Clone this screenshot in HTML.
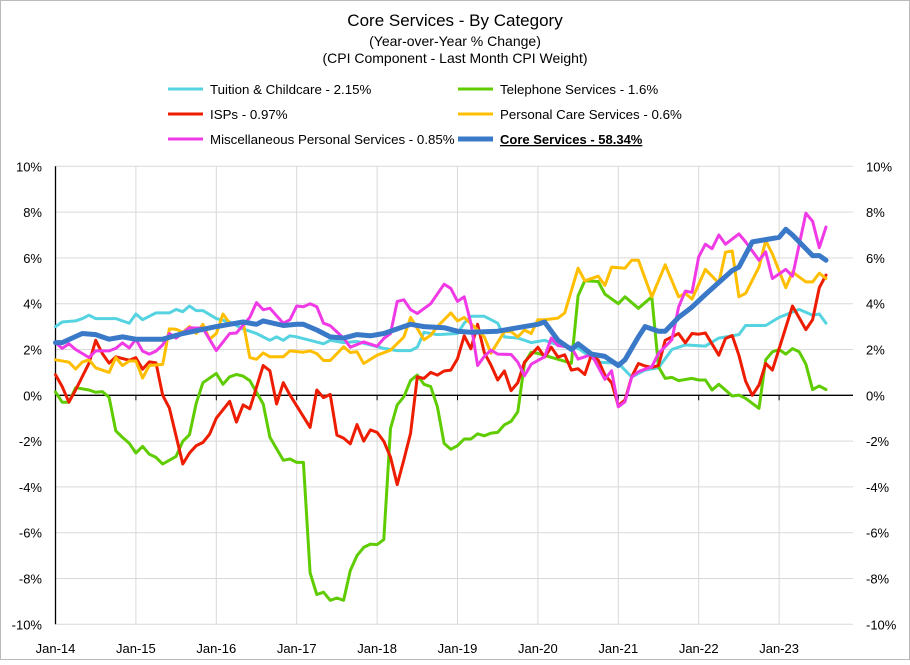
<!DOCTYPE html>
<html><head><meta charset="utf-8">
<style>
html,body{margin:0;padding:0;background:#fff;}
body{width:910px;height:660px;overflow:hidden;font-family:"Liberation Sans",sans-serif;}
svg text{font-family:"Liberation Sans",sans-serif;}
</style></head>
<body>
<svg id="chart" width="910" height="660" viewBox="0 0 910 660" xmlns="http://www.w3.org/2000/svg">
<rect x="0.5" y="0.5" width="909" height="659" fill="#fff" stroke="#bbb"/>
<g>
<text x="455" y="26" text-anchor="middle" font-size="17" fill="#000">Core Services  - By Category</text>
<text x="455" y="46" text-anchor="middle" font-size="14" fill="#000">(Year-over-Year % Change)</text>
<text x="455" y="63" text-anchor="middle" font-size="14" fill="#000">(CPI Component - Last Month CPI Weight)</text>
</g>
<g id="legend"></g>
<g id="grid"></g>
<g id="axes"></g>
<g id="series"></g>
</svg>
<script>
const xLabels=["Jan-14","Jan-15","Jan-16","Jan-17","Jan-18","Jan-19","Jan-20","Jan-21","Jan-22","Jan-23"];
const yTicks=[-10,-8,-6,-4,-2,0,2,4,6,8,10];
const seriesNames=["Tuition & Childcare - 2.15%","Telephone Services - 1.6%","ISPs - 0.97%","Personal Care Services - 0.6%","Miscellaneous Personal Services - 0.85%","Core Services - 58.34%"];
// month index (0 = Jan-14) and YoY % values per series
const tuitionMonths=[0,1,3,4,5,6,9,11,12,13,15,17,18,19,20,21,22,24,26,28,30,32,33,34,35,36,38,40,41,43,45,47,49,51,53,54,55,57,60,61,62,64,66,67,69,71,73,75,78,81,84,86,88,90,92,94,97,99,101,102,103,106,108,111,113,114,115];
const tuitionValues=[3.0,3.2,3.25,3.35,3.5,3.35,3.35,3.15,3.55,3.3,3.6,3.6,3.75,3.65,3.9,3.7,3.7,3.35,3.2,2.9,2.7,2.4,2.55,2.4,2.6,2.55,2.4,2.25,2.4,2.3,2.35,2.2,2.05,1.95,1.95,2.1,2.75,2.65,2.7,3.15,3.45,3.45,3.15,2.55,2.5,2.3,2.4,2.2,2.05,1.45,1.4,0.8,1.1,1.2,2.0,2.2,2.15,2.5,2.6,2.65,3.05,3.05,3.4,3.75,3.5,3.55,3.15];
const phoneMonths=[0,1,2,3,5,6,7,8,9,10,11,12,13,14,15,16,18,19,20,21,22,24,25,26,27,28,29,31,32,34,35,36,37,38,39,40,41,42,43,44,45,46,47,48,49,50,51,52,53,54,55,56,57,58,59,60,61,62,63,64,65,66,67,68,69,70,71,72,77,78,79,81,82,84,85,87,89,90,91,92,93,95,96,97,98,99,101,102,103,105,106,107,108,109,110,111,112,113,114,115];
const phoneValues=[0.15,-0.3,-0.3,0.33,0.23,0.13,0.16,-0.09,-1.55,-1.84,-2.09,-2.52,-2.23,-2.57,-2.71,-3.0,-2.67,-2.01,-1.72,-0.35,0.55,0.95,0.48,0.81,0.91,0.84,0.64,-0.38,-1.83,-2.84,-2.78,-2.93,-2.93,-7.75,-8.7,-8.6,-8.95,-8.85,-8.95,-7.65,-7.0,-6.64,-6.5,-6.52,-6.3,-1.45,-0.42,-0.06,0.65,0.88,0.48,0.38,-0.5,-2.1,-2.36,-2.2,-1.91,-1.91,-1.68,-1.77,-1.65,-1.62,-1.29,-1.14,-0.72,1.4,1.88,1.83,1.4,4.35,5.0,4.97,4.42,4.0,4.3,3.8,4.3,1.25,0.74,0.78,0.64,0.74,0.67,0.67,0.23,0.48,-0.03,0.01,-0.13,-0.57,1.55,1.9,2.0,1.8,2.04,1.9,1.36,0.25,0.41,0.25];
const ispMonths=[0,1,2,3,5,6,7,8,9,11,12,13,14,15,16,17,19,20,21,22,23,24,26,27,28,29,31,32,33,34,35,38,39,40,41,42,43,44,45,46,47,48,49,50,51,52,53,54,55,56,57,58,59,60,61,62,63,64,65,66,67,68,69,70,72,73,74,75,76,77,78,79,80,81,82,83,84,85,86,87,88,89,90,91,93,94,95,96,97,99,100,101,102,103,104,105,106,107,110,112,113,114,115];
const ispValues=[0.9,0.38,-0.3,0.23,1.4,2.4,1.82,1.4,1.68,1.53,1.64,1.14,1.46,1.42,0,-0.56,-3.0,-2.52,-2.2,-2.06,-1.7,-1.0,-0.26,-1.17,-0.42,-0.59,1.3,1.07,-0.38,0.55,0.01,-1.4,0.23,-0.1,0.04,-1.74,-1.87,-2.12,-1.28,-2.0,-1.51,-1.62,-2.01,-2.7,-3.9,-2.81,-1.65,0.81,0.74,1.0,0.88,1.06,1.1,1.6,2.6,2.03,3.1,1.86,1.32,0.67,1.06,0.2,0.55,1.45,2.1,1.67,2.1,1.67,1.77,1.1,1.16,0.91,1.78,1.54,0.88,0.55,-0.45,-0.2,0.81,1.39,1.28,1.22,1.3,2.4,2.7,2.29,2.7,2.67,2.72,1.75,2.48,2.61,1.75,0.62,0,0.45,1.39,1.1,3.9,2.87,3.3,4.7,5.25];
const careMonths=[0,2,3,4,5,6,8,9,10,11,12,13,14,16,17,18,19,20,21,22,23,24,25,26,28,29,30,31,32,34,35,37,38,39,40,41,43,44,45,46,48,50,52,53,55,56,57,59,60,61,63,64,65,67,68,69,70,71,72,73,75,76,78,79,81,82,83,85,86,87,89,91,93,94,95,97,99,100,101,102,103,105,106,107,109,110,112,113,114,115];
const careValues=[1.55,1.45,1.15,1.45,1.55,1.2,1.0,1.65,1.3,1.5,1.5,0.75,1.3,1.35,2.9,2.88,2.75,3.0,2.7,3.1,2.45,2.7,3.55,3.15,3.2,1.65,1.57,1.85,1.68,1.68,1.94,1.88,1.94,1.82,1.52,1.52,2.12,1.87,1.9,1.39,1.75,1.97,2.55,3.4,2.43,2.62,3.0,3.6,3.25,3.4,2.85,2.55,1.84,2.78,2.78,2.55,2.85,2.7,3.3,3.3,3.37,3.6,5.55,5.0,5.2,4.8,5.6,5.55,5.9,5.9,4.3,5.7,4.3,4.45,4.2,5.5,4.9,6.25,6.3,4.3,4.45,5.6,6.75,6.17,4.7,5.38,4.95,4.95,5.33,5.1];
const miscMonths=[0,1,2,3,5,6,8,9,10,11,12,13,14,15,16,17,18,20,22,24,26,27,29,30,31,32,34,35,36,37,38,39,40,41,43,44,46,48,49,50,51,52,53,54,56,58,59,60,61,62,63,64,65,66,68,69,70,71,73,74,75,77,78,80,82,83,84,85,86,87,89,90,92,93,94,95,96,97,98,99,100,102,103,105,106,107,109,110,112,113,114,115];
const miscValues=[2.3,2.05,2.25,2.0,1.65,1.94,1.94,2.05,2.29,2.07,2.45,1.93,1.8,1.93,2.2,2.7,2.5,2.95,2.93,1.95,2.7,2.72,3.4,4.05,3.74,3.8,3.15,3.3,3.9,3.87,4.0,3.87,3.15,3.04,2.5,2.1,2.33,2.14,2.48,2.7,4.1,4.17,3.74,3.57,4.0,4.85,4.67,4.1,4.3,3.15,1.3,1.7,1.97,1.8,1.78,1.45,0.85,1.36,1.68,2.5,2.17,2.1,1.58,1.78,0.7,1.07,-0.5,-0.28,0.8,1.03,1.25,1.83,2.43,3.85,4.55,4.5,6.05,6.6,6.4,7.0,6.6,7.05,6.7,5.9,6.26,5.1,5.5,5.2,7.95,7.6,6.45,7.35];
const coreMonths=[0,1,4,6,8,10,12,16,19,24,26,28,30,31,34,36,37,39,41,43,45,47,49,51,53,55,58,60,62,66,69,72,73,75,77,78,80,82,84,85,87,88,90,91,93,95,97,101,102,104,106,108,109,110,113,114,115];
const coreValues=[2.3,2.3,2.7,2.65,2.45,2.55,2.45,2.45,2.7,3.0,3.1,3.2,3.1,3.25,3.05,3.1,3.1,2.85,2.55,2.5,2.65,2.6,2.7,2.9,3.1,3.0,2.95,2.8,2.75,2.8,2.95,3.1,3.2,2.4,2.0,2.25,1.8,1.7,1.3,1.55,2.55,3.0,2.8,2.8,3.4,3.85,4.4,5.45,5.6,6.7,6.8,6.9,7.25,7.0,6.1,6.1,5.9];

const NS="http://www.w3.org/2000/svg";
const X0=55.5, MPX=6.7, Y0=395.3, YPX=22.9, XR=853;
function xs(m){return X0+m*MPX;}
function ys(v){return Y0-v*YPX;}
function mk(tag,attrs,parent){const e=document.createElementNS(NS,tag);for(const k in attrs)e.setAttribute(k,attrs[k]);parent.appendChild(e);return e;}
const grid=document.getElementById('grid'),axes=document.getElementById('axes'),ser=document.getElementById('series'),leg=document.getElementById('legend');

yTicks.forEach((t,i)=>{
  const y=ys(t);
  if(t!==0){const g=mk('line',{x1:X0,x2:XR,y1:y,y2:y,stroke:'#d9d9d9','stroke-width':1},grid);
  
  }
  const l=mk('text',{x:42,y:y+5,'text-anchor':'end','font-size':13,fill:'#000'},axes);l.textContent=t+'%';
  
  
  const r=mk('text',{x:866,y:y+5,'text-anchor':'start','font-size':13,fill:'#000'},axes);r.textContent=t+'%';
  
  
});
xLabels.forEach((lab,i)=>{
  const x=xs(i*12);
  if(i>0){const g=mk('line',{x1:x,x2:x,y1:ys(10),y2:ys(-10),stroke:'#d9d9d9','stroke-width':1},grid);
  
  }
  const tk=mk('line',{x1:x,x2:x,y1:Y0,y2:Y0+5,stroke:'#000','stroke-width':1},axes);
  
  
  const t=mk('text',{x:x,y:653,'text-anchor':'middle','font-size':13,fill:'#000'},axes);t.textContent=lab;
  
  
});
const za=mk('line',{x1:X0,x2:XR,y1:Y0,y2:Y0,stroke:'#000','stroke-width':1.3},axes);


const ya=mk('line',{x1:X0,x2:X0,y1:ys(10),y2:ys(-10),stroke:'#000','stroke-width':1.3},axes);



const colors=['#55D3E0','#5FCC00','#EE1C00','#FFBF00','#F03AE6','#3A78C8'];
const widths=[3,3,3,3,3,5];
const allM=[tuitionMonths,phoneMonths,ispMonths,careMonths,miscMonths,coreMonths];
const allV=[tuitionValues,phoneValues,ispValues,careValues,miscValues,coreValues];
const snames=['tuition-line','telephone-line','isps-line','personal-care-line','misc-personal-line','core-services-line'];
allM.forEach((ms,s)=>{
  const d=ms.map((m,i)=>(i?'L':'M')+xs(m).toFixed(1)+','+ys(allV[s][i]).toFixed(1)).join(' ');
  const p=mk('path',{d:d,fill:'none',stroke:colors[s],'stroke-width':widths[s],'stroke-linejoin':'round','stroke-linecap':'round'},ser);
  
  
});
const legPos=[[168,89],[458,89],[168,114],[458,114],[168,139],[458,139]];
seriesNames.forEach((n,s)=>{
  const [lx,ly]=legPos[s];
  const ln=mk('line',{x1:lx,x2:lx+35,y1:ly,y2:ly,stroke:colors[s],'stroke-width':widths[s]},leg);
  
  
  const t=mk('text',{x:lx+42,y:ly+5,'font-size':13.3,fill:'#000'},leg);t.textContent=n;
  if(s===5){t.setAttribute('font-weight','bold');t.setAttribute('text-decoration','underline');t.setAttribute('font-size',13);}
  
  
});
</script>
</body></html>
